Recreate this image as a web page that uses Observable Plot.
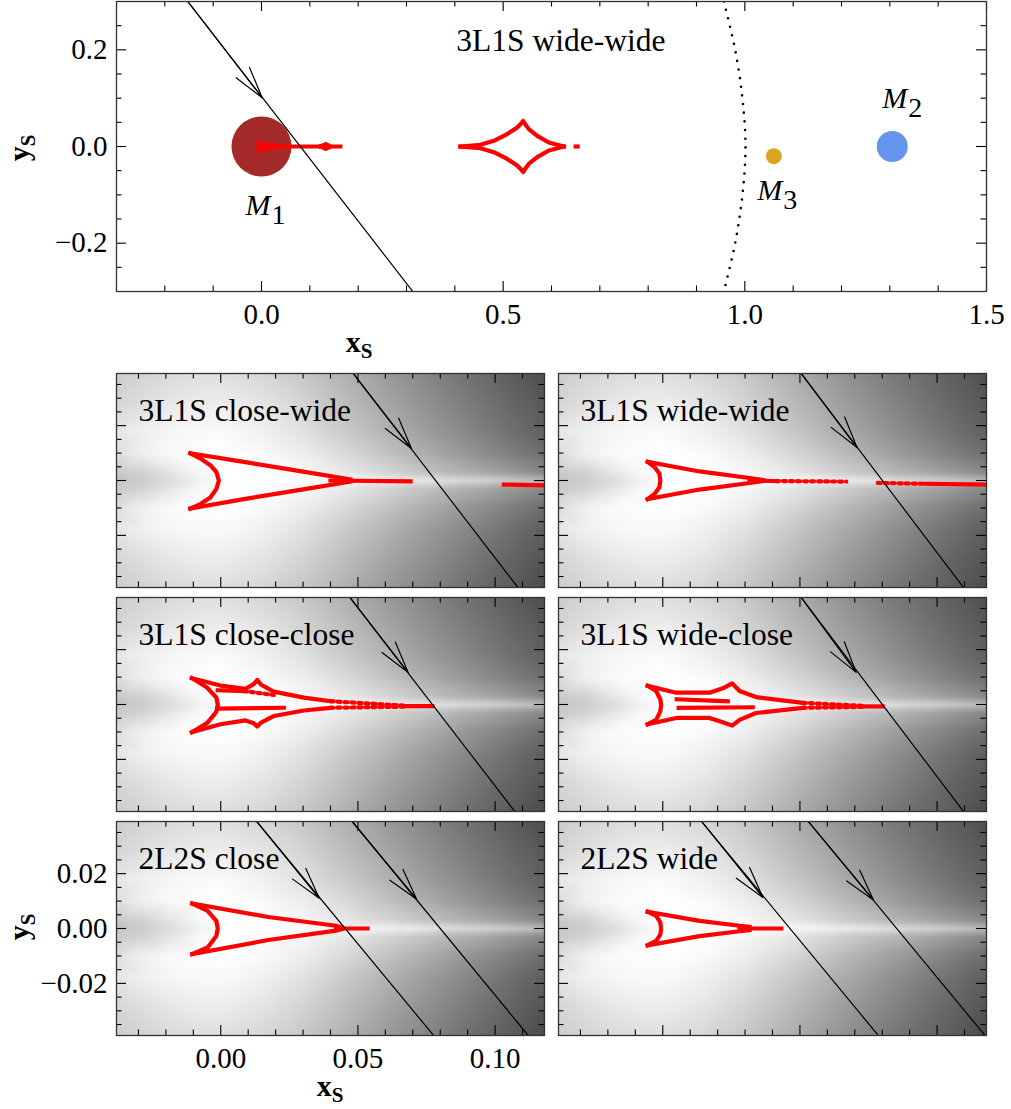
<!DOCTYPE html>
<html><head><meta charset="utf-8">
<script src="https://cdn.jsdelivr.net/npm/d3@7"></script>
<script src="https://cdn.jsdelivr.net/npm/@observablehq/plot@0.6"></script>
<style>
body{margin:0;background:#fff;}
#root{position:relative;width:1011px;height:1109px;overflow:hidden;background:#fff;}
#root > svg{position:absolute;}
</style></head>
<body><div id="root"></div>
<script>
// ---------------- data ----------------
// top panel: lens masses
const massNames = ["M1", "M2", "M3"];
const massX = [0, 1.305, 1.06];
const massY = [0, 0, -0.02];
const massSub = ["1", "2", "3"];
const massLabelX = [0.0186, 1.336, 1.0774];
const massLabelY = [-0.1213, 0.0993, -0.0902];
// Einstein ring (dotted arc)
const ringX = [0.9566, 0.98, 0.995, 1.0014, 0.995, 0.98, 0.9566];
const ringY = [0.3, 0.2, 0.1, 0, -0.1, -0.2, -0.3];
// top panel caustics
const topCaustic = {
  solid: [
    [[-0.0055,0.0068],[-0.0009,0],[-0.0055,-0.0068]],
    [[-0.0055,0.0068],[0.0365,0],[-0.0055,-0.0068]],
    [[0.0365,0],[0.163,0]],
    [[0.122,0],[0.133,0.005],[0.143,0],[0.133,-0.005],[0.122,0]],
    [[0.4117,0],[0.453,0.0035],[0.4807,0.0118],[0.5083,0.0257],[0.529,0.0393],[0.5414,0.0517]],
    [[0.5414,0.0517],[0.553,0.036],[0.5704,0.0221],[0.5945,0.0083],[0.6255,0]],
    [[0.4117,0],[0.453,-0.0035],[0.4807,-0.0118],[0.5083,-0.0257],[0.529,-0.0393],[0.5414,-0.0517]],
    [[0.5414,-0.0517],[0.553,-0.036],[0.5704,-0.0221],[0.5945,-0.0083],[0.6255,0]],
    [[0.650,0],[0.654,0]]
  ],
  dashed: []
};
const topTitle = ["3L1S wide-wide"];
const topTitlePos = [{x: 0.403, y: 0.218}];
const topTraj = [{x1:-0.1525, y1:0.3, x2:0.313, y2:-0.3, tx:0.0014, ty:0.101}];

// tick values
const topXMajor = [0, 0.5, 1.0, 1.5];
const topXMinor = [-0.2,-0.1,0.1,0.2,0.3,0.4,0.6,0.7,0.8,0.9,1.1,1.2,1.3,1.4];
const topYMajor = [-0.2, 0, 0.2];
const topYMinor = [-0.25,-0.15,-0.1,-0.05,0.05,0.1,0.15,0.25];
const botXMajor = [0, 0.05, 0.1];
const botXMinor = [-0.03,-0.02,-0.01,0.01,0.02,0.03,0.04,0.06,0.07,0.08,0.09,0.11];
const botYMajor = [-0.02, 0, 0.02];
const botYMinor = [-0.035,-0.03,-0.025,-0.015,-0.01,-0.005,0.005,0.01,0.015,0.025,0.03,0.035];

// background brightness samples (0 = black, 255 = white)
const bgX = [-0.038,-0.028,-0.018,-0.008,0.002,0.015,0.03,0.045,0.06,0.075,0.09,0.105,0.118];
const bgY = [0.039,0.028,0.018,0.010,0.003,0,-0.003,-0.010,-0.018,-0.028,-0.039];
const bgGray = [
  [205,212,218,222,222,215,200,178,156,134,114, 95, 78],
  [214,224,232,237,237,229,212,190,167,145,124,104, 88],
  [230,240,246,249,249,241,225,203,180,157,135,113, 96],
  [222,240,250,253,255,250,238,218,195,172,150,128,110],
  [202,212,230,247,255,253,246,232,214,194,175,155,136],
  [196,204,220,242,255,255,252,248,240,228,214,200,185],
  [202,212,230,247,255,253,246,232,214,194,175,155,136],
  [222,240,250,253,255,250,238,218,195,172,150,128,108],
  [230,240,246,249,249,241,225,203,180,157,135,112, 94],
  [214,224,232,237,237,229,212,190,167,145,123,102, 85],
  [205,212,218,222,222,215,200,178,155,133,112, 93, 75]
];

// bottom panels: caustics
const causticCW = {
  solid: [
    [[-0.0111,0.0099],[-0.0074,0.0080],[-0.0038,0.0056],[-0.0016,0.0031],[-0.0007,0],[-0.0016,-0.0031],[-0.0038,-0.0062],[-0.0074,-0.0086],[-0.0111,-0.0102]],
    [[-0.0111,0.0099],[0.0084,0.0068],[0.0278,0.0036],[0.0473,0.0004]],
    [[-0.0111,-0.0102],[0.0084,-0.0068],[0.0278,-0.0036],[0.0473,-0.0004]],
    [[0.0400,0],[0.0692,-0.0003]],
    [[0.1032,-0.0015],[0.1185,-0.0018]]
  ],
  dashed: []
};
const causticWW = {
  solid: [
    [[-0.0055,0.0068],[-0.003,0.0049],[-0.0012,0.0025],[-0.0009,0],[-0.0012,-0.0025],[-0.003,-0.0049],[-0.0055,-0.0068]],
    [[-0.0055,0.0068],[0.0134,0.0033],[0.0316,0.0009],[0.0365,0.0002]],
    [[-0.0055,-0.0068],[0.0134,-0.0033],[0.0316,-0.0009],[0.0365,-0.0002]],
    [[0.0316,0],[0.0413,-0.0002]],
    [[0.096,-0.0012],[0.1185,-0.0015]]
  ],
  dashed: [
    [[0.0413,-0.0002],[0.0669,-0.0004]],
    [[0.0784,-0.0009],[0.096,-0.0012]]
  ]
};
const causticCC = {
  solid: [
    [[-0.0105,0.0096],[-0.005,0.0062],[-0.0016,0.0025],[-0.0011,0],[-0.0016,-0.0027],[-0.005,-0.0068],[-0.0105,-0.0101]],
    [[-0.0105,0.0096],[-0.0001,0.0069],[0.009,0.0057],[0.012,0.0074],[0.0133,0.0089],[0.0147,0.0072],[0.0193,0.0047],[0.0303,0.0025],[0.04,0.0012]],
    [[-0.0105,-0.0101],[-0.0001,-0.0072],[0.009,-0.0058],[0.012,-0.0068],[0.0133,-0.008],[0.0147,-0.0066],[0.0193,-0.0042],[0.0303,-0.0022],[0.04,-0.0012]],
    [[-0.0011,0.0052],[0.0084,0.0049]],
    [[-0.0011,-0.0015],[0.023,-0.0012]],
    [[0.0667,-0.0006],[0.0771,-0.0006]]
  ],
  dashed: [
    [[0.0084,0.0049],[0.0193,0.0035]],
    [[0.04,0.0012],[0.0667,-0.0004]],
    [[0.04,-0.0012],[0.0667,-0.0008]]
  ]
};
const causticWC = {
  solid: [
    [[-0.0055,0.0068],[-0.0024,0.0049],[-0.0009,0.0019],[-0.0006,-0.0002],[-0.0009,-0.0025],[-0.0024,-0.0056],[-0.0055,-0.0072]],
    [[-0.0055,0.0068],[0.0049,0.0043],[0.017,0.0043],[0.0219,0.0059],[0.0253,0.0077],[0.028,0.0049],[0.034,0.0027],[0.0511,0.0006]],
    [[-0.0055,-0.0072],[0.0049,-0.0049],[0.017,-0.0049],[0.0219,-0.0065],[0.0253,-0.0077],[0.028,-0.0056],[0.034,-0.0031],[0.0511,-0.0012]],
    [[0.0051,0.0019],[0.0237,0.0012]],
    [[0.0058,-0.0012],[0.0328,-0.001]],
    [[0.073,-0.0007],[0.0802,-0.0007]]
  ],
  dashed: [
    [[0.0511,0.0006],[0.073,-0.0005]],
    [[0.0511,-0.0012],[0.073,-0.0009]]
  ]
};
const causticC2 = {
  solid: [
    [[-0.0104,0.0091],[-0.0048,0.0064],[-0.0016,0.0028],[-0.0011,0],[-0.0016,-0.0027],[-0.0048,-0.0069],[-0.0104,-0.0093]],
    [[-0.0104,0.0091],[0.0173,0.0042],[0.042,0.001],[0.044,0.0004]],
    [[-0.0104,-0.0093],[0.0173,-0.0042],[0.042,-0.0008],[0.044,-0.0003]],
    [[0.042,0],[0.0535,0]]
  ],
  dashed: []
};
const causticW2 = {
  solid: [
    [[-0.0055,0.0061],[-0.0024,0.0046],[-0.0009,0.0022],[-0.0006,0],[-0.0009,-0.0022],[-0.0024,-0.0045],[-0.0055,-0.0061]],
    [[-0.0055,0.0061],[0.0134,0.0028],[0.028,0.001],[0.0316,0.0006]],
    [[-0.0055,-0.0061],[0.0134,-0.0028],[0.028,-0.001],[0.0316,-0.0006]],
    [[0.028,0],[0.0432,0]]
  ],
  dashed: []
};
// bottom panels: source trajectories (start, end, arrow tip)
const trajCW = [{x1:0.0479, y1:0.0395, x2:0.1087, y2:-0.0395, tx:0.0695, ty:0.0117}];
const trajWW = [{x1:0.0501, y1:0.0395, x2:0.110, y2:-0.0395, tx:0.0708, ty:0.012}];
const trajCC = [{x1:0.0467, y1:0.0395, x2:0.1078, y2:-0.0398, tx:0.0683, ty:0.0117}];
const trajWC = [{x1:0.0501, y1:0.0395, x2:0.110, y2:-0.0395, tx:0.0705, ty:0.0117}];
const trajC2 = [
  {x1:0.0131, y1:0.039, x2:0.0776, y2:-0.039, tx:0.0359, ty:0.011},
  {x1:0.0479, y1:0.039, x2:0.1121, y2:-0.039, tx:0.0714, ty:0.0107}
];
const trajW2 = [
  {x1:0.0140, y1:0.0392, x2:0.0784, y2:-0.0388, tx:0.0365, ty:0.0113},
  {x1:0.0529, y1:0.0392, x2:0.1173, y2:-0.0388, tx:0.0768, ty:0.0104}
];
const panelTitles = ["3L1S close-wide","3L1S wide-wide","3L1S close-close","3L1S wide-close","2L2S close","2L2S wide"];

// ---------------- styles ----------------
const FONT = "Liberation Serif";
const TICK_FS = 29, TITLE_FS = 31.5;
const massStyle = {M1:{r:30, fill:"#a52a2a"}, M2:{r:15.5, fill:"#6495ed"}, M3:{r:8, fill:"#daa520"}};
const root = document.getElementById("root");

// ---------------- helpers ----------------
function tickMarks(xMaj, xMin, yMaj, yMin, fw, fh) {
  const L = 10, l = 5.5, o = {stroke:"black", strokeWidth:1.1};
  return [
    Plot.tickX(xMaj, {x:d=>d, insetTop:fh-L, ...o}),
    Plot.tickX(xMaj, {x:d=>d, insetBottom:fh-L, ...o}),
    Plot.tickX(xMin, {x:d=>d, insetTop:fh-l, ...o}),
    Plot.tickX(xMin, {x:d=>d, insetBottom:fh-l, ...o}),
    Plot.tickY(yMaj, {y:d=>d, insetRight:fw-L, ...o}),
    Plot.tickY(yMaj, {y:d=>d, insetLeft:fw-L, ...o}),
    Plot.tickY(yMin, {y:d=>d, insetRight:fw-l, ...o}),
    Plot.tickY(yMin, {y:d=>d, insetLeft:fw-l, ...o})
  ];
}
function causticMarks(c) {
  const solid = [], dashed = [];
  c.solid.forEach((seg, i) => seg.forEach(([x, y]) => solid.push({x, y, z:i})));
  c.dashed.forEach((seg, i) => seg.forEach(([x, y]) => dashed.push({x, y, z:i})));
  return [
    Plot.line(solid, {x:"x", y:"y", z:"z", stroke:"#ff0000", strokeWidth:4.2, strokeLinejoin:"round", strokeLinecap:"square", clip:true}),
    Plot.line(dashed, {x:"x", y:"y", z:"z", stroke:"#ff0000", strokeWidth:4.2, strokeDasharray:"3 4", clip:true})
  ];
}
function trajMarks(trajs) {
  return [
    Plot.link(trajs, {x1:"x1", y1:"y1", x2:"x2", y2:"y2", stroke:"black", strokeWidth:1.2, clip:true}),
    Plot.arrow(trajs, {
      x1: d => d.tx + 2 * (d.x1 - d.tx), y1: d => d.ty + 2 * (d.y1 - d.ty),
      x2: "tx", y2: "ty", stroke:"black", strokeWidth:1.2, headLength:41, headAngle:30, clip:true
    })
  ];
}
const bgRows = [];
bgY.forEach((y, i) => bgX.forEach((x, j) => bgRows.push({x, y, v: bgGray[i][j]})));

// ---------------- top panel ----------------
{
  const FW = 870, FH = 290;
  const masses = massNames.map((n, i) => ({name:n, x:massX[i], y:massY[i], lx:massLabelX[i], ly:massLabelY[i], sub:massSub[i]}));
  const ring = ringX.map((x, i) => ({x, y: ringY[i]}));
  const svg = Plot.plot({
    width:1011, height:365, marginLeft:116, marginRight:25, marginTop:1, marginBottom:74,
    x:{domain:[-0.3, 1.5]}, y:{domain:[-0.3, 0.3]},
    style:{fontFamily:FONT, fontSize:TICK_FS+"px", background:"transparent", overflow:"visible"},
    marks:[
      Plot.line(ring, {x:"x", y:"y", curve:"catmull-rom", stroke:"black", strokeWidth:2.6, strokeDasharray:"0 8.7", strokeLinecap:"round", clip:true}),
      ...masses.map(m => Plot.dot([m], {x:"x", y:"y", r:massStyle[m.name].r, fill:massStyle[m.name].fill})),
      ...causticMarks(topCaustic),
      ...trajMarks(topTraj),
      Plot.text(masses, {x:"lx", y:"ly", text:() => "M", textAnchor:"end", fontFamily:FONT, fontStyle:"italic", fontSize:30}),
      Plot.text(masses, {x:"lx", y:"ly", text:"sub", textAnchor:"start", dy:10, dx:1, fontFamily:FONT, fontSize:28}),
      Plot.text(topTitle, {x:() => topTitlePos[0].x, y:() => topTitlePos[0].y, text:d => d, textAnchor:"start", fontFamily:FONT, fontSize:TITLE_FS}),
      ...tickMarks(topXMajor, topXMinor, topYMajor, topYMinor, FW, FH),
      Plot.frame({stroke:"#333", strokeWidth:1.3}),
      Plot.axisX({ticks:topXMajor, tickSize:0, tickPadding:12, tickFormat:d3.format(".1f"), label:null, fontFamily:FONT, fontSize:TICK_FS}),
      Plot.axisY({ticks:topYMajor, tickSize:0, tickPadding:9, tickFormat:d3.format(".1f"), label:null, fontFamily:FONT, fontSize:TICK_FS})
    ]
  });
  svg.style.left = "0px"; svg.style.top = "0px";
  root.append(svg);
}

// ---------------- bottom panels ----------------
const PW = 428, PH = 214;
const colLeft = [116, 558];
const rowTop = [373, 597, 821];
const panels = [
  {title:panelTitles[0], caustic:causticCW, traj:trajCW, col:0, row:0},
  {title:panelTitles[1], caustic:causticWW, traj:trajWW, col:1, row:0},
  {title:panelTitles[2], caustic:causticCC, traj:trajCC, col:0, row:1},
  {title:panelTitles[3], caustic:causticWC, traj:trajWC, col:1, row:1},
  {title:panelTitles[4], caustic:causticC2, traj:trajC2, col:0, row:2, labeled:true},
  {title:panelTitles[5], caustic:causticW2, traj:trajW2, col:1, row:2}
];
for (const p of panels) {
  const mL = p.labeled ? 116 : 1, mB = p.labeled ? 60 : 1, mT = 1, mR = 1;
  const marks = [
    Plot.raster(bgRows, {x:"x", y:"y", fill:"v", interpolate:"barycentric"}),
    ...causticMarks(p.caustic),
    ...trajMarks(p.traj),
    ...tickMarks(botXMajor, botXMinor, botYMajor, botYMinor, PW, PH),
    Plot.frame({stroke:"#333", strokeWidth:1.3}),
    Plot.text([p.title], {text:d => d, frameAnchor:"top-left", dx:22, dy:25, fontFamily:FONT, fontSize:TITLE_FS})
  ];
  if (p.labeled) {
    marks.push(
      Plot.axisX({ticks:botXMajor, tickSize:0, tickPadding:12, tickFormat:d3.format(".2f"), label:null, fontFamily:FONT, fontSize:TICK_FS}),
      Plot.axisY({ticks:botYMajor, tickSize:0, tickPadding:9, tickFormat:d3.format(".2f"), label:null, fontFamily:FONT, fontSize:TICK_FS})
    );
  }
  const svg = Plot.plot({
    width: mL + PW + mR, height: mT + PH + mB,
    marginLeft:mL, marginRight:mR, marginTop:mT, marginBottom:mB,
    x: p.labeled ? {domain:[-0.038, 0.118]} : {domain:[-0.038, 0.118], axis:null},
    y: p.labeled ? {domain:[-0.039, 0.039]} : {domain:[-0.039, 0.039], axis:null},
    color:{type:"linear", domain:[0, 255], range:["black", "white"]},
    style:{fontFamily:FONT, fontSize:TICK_FS+"px", background:"transparent", overflow:"visible"},
    marks
  });
  svg.style.left = (colLeft[p.col] - mL) + "px";
  svg.style.top = (rowTop[p.row] - mT) + "px";
  root.append(svg);
}

// ---------------- axis titles (x_S, y_S) ----------------
{
  const ov = d3.select(root).append("svg")
    .attr("width", 1011).attr("height", 1109)
    .style("left", "0px").style("top", "0px").style("pointer-events", "none");
  const labels = [
    {t:"x", x:359, y:352, rot:false},
    {t:"y", x:29, y:148, rot:true},
    {t:"x", x:330, y:1096, rot:false},
    {t:"y", x:29, y:927, rot:true}
  ];
  for (const l of labels) {
    const txt = ov.append("text")
      .attr("text-anchor", "middle")
      .attr("font-family", FONT).attr("font-weight", "bold").attr("font-size", 30)
      .attr("transform", l.rot ? `translate(${l.x},${l.y}) rotate(-90)` : `translate(${l.x},${l.y})`);
    txt.append("tspan").text(l.t);
    txt.append("tspan").attr("font-size", 21).attr("dy", 6).text("S");
  }
}
</script>
</body></html>
